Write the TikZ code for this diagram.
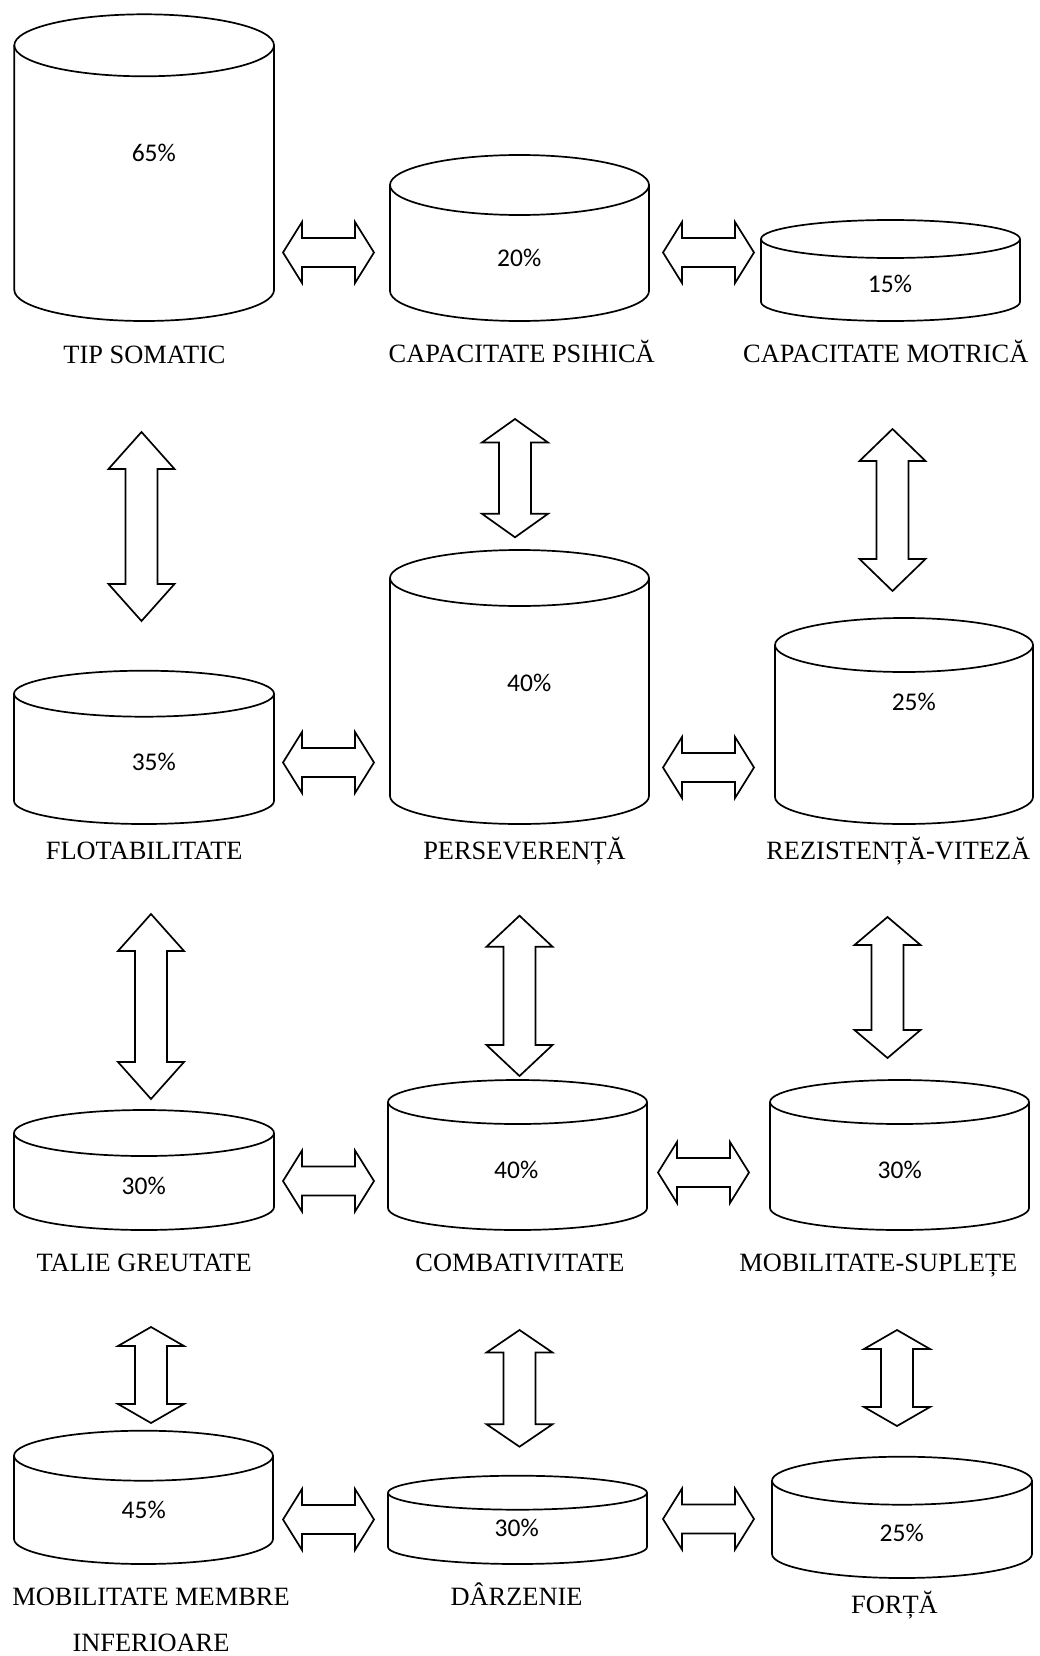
\documentclass[tikz,border=0pt]{standalone}
\usepackage{fontspec}
\setmainfont{Liberation Serif}
\newfontfamily\pctfont{Carlito}
\usetikzlibrary{calc}

% drum outline: left x, right x, top y, bottom y, ellipse half-height, name
\newcommand\drum[6]{%
  \pgfmathsetmacro\drumrx{(#2-#1)/2}%
  \pgfmathsetmacro\drumcx{(#2+#1)/2}%
  \draw[drumline] (#1,#3+#5) -- (#1,#4-#5)
     arc[start angle=180,end angle=0,x radius=\drumrx,y radius=#5] -- (#2,#3+#5);
  \draw[drumline] (\drumcx,#3+#5) ellipse[x radius=\drumrx,y radius=#5];
  \coordinate (#6) at (\drumcx,{(#3+#4)/2});
}
% horizontal double block arrow: name, left tip x, centre y
\newcommand\harr[3]{%
  \draw[blockarrow] (#2,#3) -- ++(19,-30.5) -- ++(0,16) -- ++(53,0) -- ++(0,-16)
     -- ++(19,30.5) -- ++(-19,30.5) -- ++(0,-16) -- ++(-53,0) -- ++(0,16) -- cycle;
  \coordinate (#1) at (#2+45.5,#3);
}
% vertical double block arrow: name, centre x, top tip y, bottom tip y, head length
\newcommand\varr[5]{%
  \draw[blockarrow] (#2,#3) -- (#2+33,#3+#5) -- (#2+16,#3+#5) -- (#2+16,#4-#5)
     -- (#2+33,#4-#5) -- (#2,#4) -- (#2-33,#4-#5) -- (#2-16,#4-#5)
     -- (#2-16,#3+#5) -- (#2-33,#3+#5) -- cycle;
  \coordinate (#1) at (#2,{(#3+#4)/2});
}

\begin{document}
\begin{tikzpicture}[x=1pt,y=-1pt,
  drumline/.style={line width=1.7pt,line join=round},
  blockarrow/.style={line width=1.7pt,line join=miter,fill=white},
  pct/.style={anchor=base,inner sep=0pt,font=\pctfont\fontsize{25.5}{30}\selectfont},
  lbl/.style={anchor=base,inner sep=0pt,font=\fontsize{26.4}{30}\selectfont}]
\useasboundingbox (0,0) rectangle (1039,1656);

% row 1
\drum{14.3}{274}{14.3}{321}{31}{dTip}
\drum{390}{649}{155}{321}{30}{dPsi}
\drum{761}{1020}{220}{321}{19}{dMot}
\node[pct] (pTip) at (153.8,161.7) {65\%};
\node[pct] (pPsi) at (519.2,266.7) {20\%};
\node[pct] (pMot) at (890,292.7) {15\%};
\node[lbl] (lTip) at (144.5,363.3) {TIP SOMATIC};
\node[lbl] (lPsi) at (521.7,362.7) {CAPACITATE PSIHICĂ};
\node[lbl] (lMot) at (885.8,362.7) {CAPACITATE MOTRICĂ};
\harr{a1}{283}{252.5}
\harr{a2}{663}{252.5}

% links row 1 - row 2
\varr{v1}{141.5}{432}{621}{37}
\varr{v2}{515}{419}{537.3}{23.5}
\varr{v3}{892.5}{429}{591}{32}

% row 2
\drum{14}{274}{670.7}{824}{23}{dFlo}
\drum{390}{649}{550}{824}{28}{dPer}
\drum{775}{1033}{618}{824}{27}{dRez}
\node[pct] (pFlo) at (153.8,770.7) {35\%};
\node[pct] (pPer) at (529.2,691.7) {40\%};
\node[pct] (pRez) at (913.8,710) {25\%};
\node[lbl] (lFlo) at (144.2,859.3) {FLOTABILITATE};
\node[lbl] (lPer) at (524.5,859.3) {PERSEVERENȚĂ};
\node[lbl] (lRez) at (898.3,859.3) {REZISTENȚĂ-VITEZĂ};
\harr{a3}{283}{762.5}
\harr{a4}{663}{767.5}

% links row 2 - row 3
\varr{v4}{151}{914}{1099}{37}
\varr{v5}{519.5}{915.7}{1076}{31}
\varr{v6}{887.5}{917}{1058}{28}

% row 3
\drum{14}{274}{1110}{1230}{23}{dTal}
\drum{388}{647}{1080}{1230}{22}{dCom}
\drum{770}{1029}{1080}{1230}{22}{dSup}
\node[pct] (pTal) at (143.7,1194.3) {30\%};
\node[pct] (pCom) at (516.2,1178.3) {40\%};
\node[pct] (pSup) at (899.7,1178.3) {30\%};
\node[lbl] (lTal) at (144.2,1271.7) {TALIE GREUTATE};
\node[lbl] (lCom) at (520,1271.7) {COMBATIVITATE};
\node[lbl] (lSup) at (878.3,1271.7) {MOBILITATE-SUPLEȚE};
\harr{a5}{283}{1181}
\harr{a6}{658}{1172.5}

% links row 3 - row 4
\varr{v7}{151}{1327}{1423}{19}
\varr{v8}{519.5}{1330}{1446.7}{22.5}
\varr{v9}{897}{1330}{1426}{19}

% row 4
\drum{14}{273}{1430.7}{1564}{25}{dMem}
\drum{388}{647}{1475.7}{1564}{17}{dDar}
\drum{772}{1032}{1456.7}{1578}{24}{dFor}
\node[pct] (pMem) at (143.7,1518.3) {45\%};
\node[pct] (pDar) at (516.7,1536.7) {30\%};
\node[pct] (pFor) at (901.7,1541.7) {25\%};
\node[lbl] (lMemA) at (151,1605) {MOBILITATE MEMBRE};
\node[lbl] (lMemB) at (151,1651.7) {INFERIOARE};
\node[lbl] (lDar) at (516.5,1605) {DÂRZENIE};
\node[lbl] (lFor) at (894.5,1613.3) {FORȚĂ};
\harr{a7}{283}{1519.5}
\harr{a8}{663}{1519}
\end{tikzpicture}
\end{document}
